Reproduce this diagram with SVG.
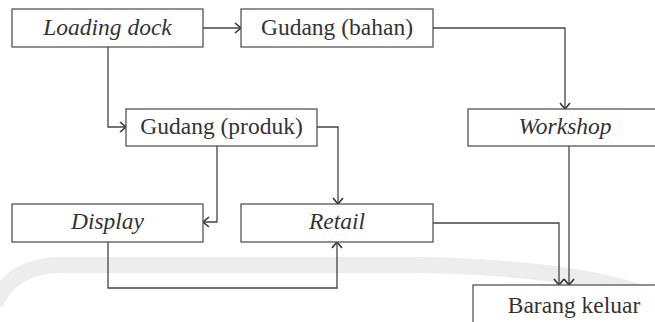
<svg xmlns="http://www.w3.org/2000/svg" width="655" height="322" viewBox="0 0 655 322">
<style>
.box{fill:#ffffff;stroke:#555555;stroke-width:1.3}
.lbl{font-family:"Liberation Serif","Times New Roman",serif;font-size:23.5px;fill:#333333;text-anchor:middle}
.it{font-style:italic}
.con{fill:none;stroke:#444444;stroke-width:1.3}
</style>
<defs>
<marker id="ah" markerUnits="userSpaceOnUse" markerWidth="14" markerHeight="14" viewBox="-8 -7 10 14" refX="0" refY="0" orient="auto">
<path d="M-6,-5 L0,0 L-6,5" fill="none" stroke="#333333" stroke-width="1.6"/>
</marker>
</defs>
<rect width="655" height="322" fill="#ffffff"/>
<g id="watermark">
<path d="M-5,305 Q10,266 60,265 L420,265 Q590,268 665,302" fill="none" stroke="#ededed" stroke-width="16"/>
</g>
<g id="connectors">
<path class="con" d="M203,28 H241" marker-end="url(#ah)"/>
<path class="con" d="M108,47 V127 H126" marker-end="url(#ah)"/>
<path class="con" d="M433,28 H565 V109" marker-end="url(#ah)"/>
<path class="con" d="M317,127 H338 V204" marker-end="url(#ah)"/>
<path class="con" d="M217,146 V222 H203" marker-end="url(#ah)"/>
<path class="con" d="M108,242 V288 H337 V242" marker-end="url(#ah)"/>
<path class="con" d="M433,223 H559 V285" marker-end="url(#ah)"/>
<path class="con" d="M569,146 V285" marker-end="url(#ah)"/>
</g>
<g id="loading-dock">
<rect class="box" x="12" y="9" width="191" height="38"/>
<text class="lbl it" x="107.5" y="34.5">Loading dock</text>
</g>
<g id="gudang-bahan">
<rect class="box" x="241" y="9" width="192" height="38"/>
<text class="lbl" x="337" y="34.5">Gudang (bahan)</text>
</g>
<g id="gudang-produk">
<rect class="box" x="126" y="109" width="191" height="37"/>
<text class="lbl" x="221.5" y="133.5">Gudang (produk)</text>
</g>
<g id="workshop">
<rect class="box" x="468" y="109" width="194" height="37"/>
<text class="lbl it" x="565" y="133.5">Workshop</text>
</g>
<g id="display">
<rect class="box" x="12" y="204" width="191" height="38"/>
<text class="lbl it" x="107.5" y="229">Display</text>
</g>
<g id="retail">
<rect class="box" x="241" y="204" width="192" height="38"/>
<text class="lbl it" x="337" y="229">Retail</text>
</g>
<g id="barang-keluar">
<rect class="box" x="473" y="285" width="202" height="50"/>
<text class="lbl" x="574" y="313">Barang keluar</text>
</g>
</svg>
